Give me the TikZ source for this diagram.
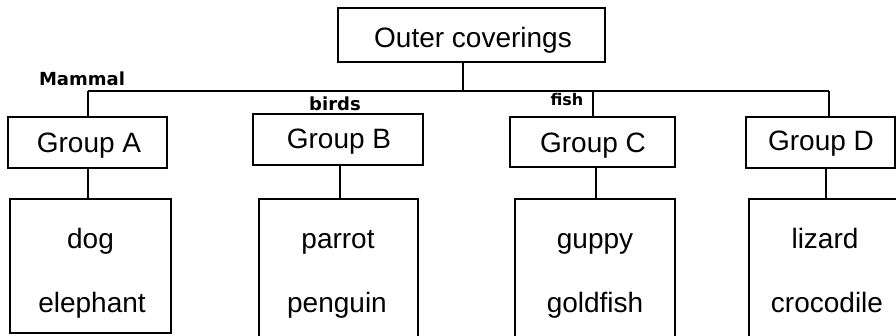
\documentclass[tikz,border=0pt]{standalone}
\usepackage{fontspec}
\setmainfont{Liberation Sans}
\newfontfamily\handfont{DejaVu Sans}
\tikzset{
  box/.style={draw, line width=1.3pt, inner sep=0pt},
  lbl/.style={inner sep=0pt, anchor=base, font=\fontsize{28}{34}\selectfont},
  hand/.style={inner sep=0pt, font=\handfont\bfseries\fontsize{17}{20}\selectfont},
  conn/.style={line width=1.6pt},
}
\begin{document}
\begin{tikzpicture}[x=1pt,y=-1pt]
\useasboundingbox (0,0) rectangle (896,335);
\clip (0,0) rectangle (896,335);
\fill[white] (0,0) rectangle (896,335);
% top
\node[box, minimum width=267pt, minimum height=54pt] (outer) at (471.5,35) {};
\node[lbl] (outert) at (473,47) {Outer coverings};
% group boxes
\node[box, minimum width=159pt, minimum height=51pt] (ga) at (87.5,142.5) {};
\node[box, minimum width=170pt, minimum height=51pt] (gb) at (338,139.5) {};
\node[box, minimum width=165pt, minimum height=50pt] (gc) at (592.5,142) {};
\node[box, minimum width=149pt, minimum height=51pt] (gd) at (820.5,142.5) {};
\node[lbl] (gat) at (89,152) {Group A};
\node[lbl] (gbt) at (339,148) {Group B};
\node[lbl] (gct) at (593,152) {Group C};
\node[lbl] (gdt) at (821,150) {Group D};
% member boxes
\node[box, minimum width=161pt, minimum height=134pt] (ma) at (90.5,266) {};
\node[box, minimum width=159pt, minimum height=142pt] (mb) at (338.5,270) {};
\node[box, minimum width=160pt, minimum height=142pt] (mc) at (595,270) {};
\node[box, minimum width=156pt, minimum height=142pt] (md) at (827,270) {};
% member texts
\node[lbl] (ta1) at (90.5,248) {dog};
\node[lbl] (ta2) at (92,312) {elephant};
\node[lbl] (tb1) at (338,248) {parrot};
\node[lbl] (tb2) at (337,312) {penguin};
\node[lbl] (tc1) at (595,248) {guppy};
\node[lbl] (tc2) at (595,312) {goldfish};
\node[lbl] (td1) at (825,248) {lizard};
\node[lbl] (td2) at (827,312) {crocodile};
% connectors
\coordinate (barL) at (88,91);
\coordinate (barR) at (829,91);
\coordinate (barM) at (463,91);
\coordinate (barC) at (593,91);
\draw[conn] (outer.south -| barM) -- (barM);
\draw[conn] (barL) -- (barR);
\draw[conn] (barL) -- (barL |- ga.north);
\draw[conn] (barC) -- (barC |- gc.north);
\draw[conn] (barR) -- (barR |- gd.north);
\draw[conn] (ga.south -| 88,0) -- (ma.north -| 88,0);
\draw[conn] (gb.south -| 340,0) -- (mb.north -| 340,0);
\draw[conn] (gc.south -| 596,0) -- (mc.north -| 596,0);
\draw[conn] (gd.south -| 826,0) -- (md.north -| 826,0);
% handwritten notes
\node[hand, font=\handfont\bfseries\fontsize{18}{20}\selectfont] (mammal) at (82,79) {Mammal};
\node[hand, font=\handfont\bfseries\fontsize{18}{20}\selectfont] (birds) at (335,104) {birds};
\node[hand, font=\handfont\bfseries\fontsize{16}{18}\selectfont] (fish) at (567,100) {fish};
\end{tikzpicture}
\end{document}
